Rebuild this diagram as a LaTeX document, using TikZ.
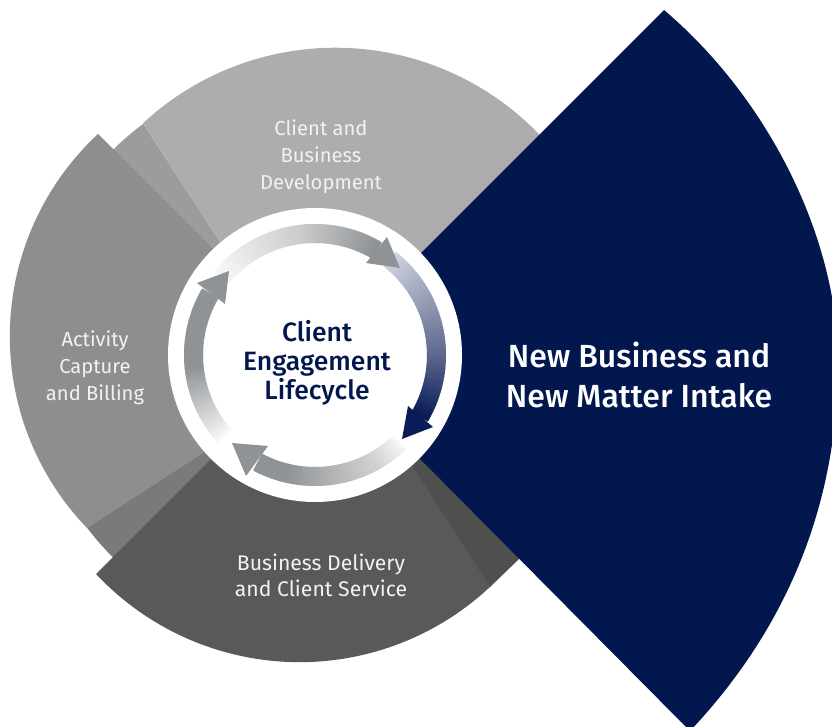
\documentclass[tikz,border=0pt]{standalone}
\usepackage{fontspec}
\setmainfont{Fira Sans}
\newfontfamily\medfont{Fira Sans Medium}
\definecolor{navy}{HTML}{03174F}
\definecolor{lightsec}{HTML}{ADADAD}
\definecolor{lightwedge}{HTML}{9C9C9C}
\definecolor{midsec}{HTML}{8E8E8E}
\definecolor{midwedge}{HTML}{7A7A7A}
\definecolor{darksec}{HTML}{595959}
\definecolor{darkwedge}{HTML}{4F4F4F}
\definecolor{ringgray}{HTML}{8F9396}
\definecolor{ringpale}{HTML}{F7F7F7}
\definecolor{ringmid}{HTML}{CFCFCF}
\definecolor{ringblue}{HTML}{CDD2DF}
\definecolor{ringslate}{HTML}{6A7395}
\definecolor{ringnavy}{HTML}{0A1C58}
\newcommand{\ringpart}[4]{%
  \foreach \i in {0,...,29} {
    \pgfmathsetmacro\aone{#1+(#2-#1)*\i/30}
    \pgfmathsetmacro\atwo{#1+(#2-#1)*(\i+1.5)/30}
    \pgfmathsetmacro\pct{100*\i/29}
    \fill[color={#4!\pct!#3}]
      ({315+112*cos(\aone)},{355+112*sin(\aone)}) --
      ({315+131*cos(\aone)},{355+131*sin(\aone)}) --
      ({315+131*cos(\atwo)},{355+131*sin(\atwo)}) --
      ({315+112*cos(\atwo)},{355+112*sin(\atwo)}) -- cycle;
  }}
\tikzset{
  arclabel/.style={text=white!95!black,align=center,inner sep=0pt,font=\fontsize{20.2}{27}\selectfont},
  deliverylabel/.style={arclabel,font=\fontsize{21.2}{26}\selectfont},
  hublabel/.style={text=navy,align=center,inner sep=0pt,font=\fontsize{26.5}{29}\selectfont\medfont},
  mainlabel/.style={text=white,align=center,inner sep=0pt,font=\fontsize{32}{40}\selectfont\medfont}
}
\begin{document}
\begin{tikzpicture}[x=1pt,y=-1pt]
\useasboundingbox (0,0) rectangle (832,727);
\clip (0,0) rectangle (832,727);
% wedges behind the sectors
\fill[lightwedge] (315,355) -- plot[domain=-138:-126.6,samples=12] ({315+288*cos(\x)},{355+288*sin(\x)}) -- (220,242) -- cycle;
\fill[midwedge] (320,370) -- (200,445) -- plot[domain=142.8:130,samples=10] ({315+286*cos(\x)},{355+286*sin(\x)}) -- cycle;
\fill[darkwedge] (341,355) -- (480,590) -- (490,587) -- (518,560) -- (540,535) -- cycle;
% sectors
\fill[lightsec] (143,123) -- plot[domain=-132.8:-40,samples=60] ({335.4+283*cos(\x)},{330.7+283*sin(\x)}) -- (340,360) -- (293,355) -- cycle;
\fill[midsec] (98,134) -- plot[domain=227.1:136.1,samples=60] ({286.3+276.5*cos(\x)},{336.4+276.5*sin(\x)}) -- (203,453) -- (320,377) -- (320,356) -- cycle;
\fill[darksec] (96,574) -- plot[domain=136.9:46.9,samples=60] ({299.5+278.8*cos(\x)},{383.4+278.8*sin(\x)}) -- (413,467) -- (341,355) -- (315,355) -- cycle;
% selected sector
\fill[navy] (318,356) -- (664,10) .. controls (770,100) and (838,240) .. (838,362) .. controls (838,500) and (790,625) .. (690,731) -- cycle;
% hub
\fill[white] (315,355) circle[radius=147];
% ring bodies
\ringpart{-140}{-100}{ringpale}{ringmid}
\ringpart{-100}{-60}{ringmid}{ringgray}
\ringpart{-52}{-5}{ringblue}{ringslate}
\ringpart{-5}{30}{ringslate}{ringnavy}
\ringpart{46}{62}{ringpale}{ringmid}
\ringpart{62}{105}{ringmid}{ringgray}
\ringpart{105}{118}{ringgray}{ringgray}
\ringpart{138}{175}{ringpale}{ringgray}
\ringpart{175}{210}{ringgray}{ringgray}
% ring heads
\coordinate (topTip) at (400,268);
\coordinate (topBarbA) at (387,237);
\coordinate (topBarbB) at (366,263);
\coordinate (rightTip) at (402,439);
\coordinate (rightBarbA) at (408,406);
\coordinate (rightBarbB) at (433,427);
\coordinate (botTip) at (232,443);
\coordinate (botBarbA) at (268,446);
\coordinate (botBarbB) at (246,476);
\coordinate (leftTip) at (229,271);
\coordinate (leftBarbA) at (197,283);
\coordinate (leftBarbB) at (225,304);
\fill[ringgray] (topTip) -- (topBarbA) -- (topBarbB) -- cycle;
\fill[ringnavy] (rightTip) -- (rightBarbA) -- (rightBarbB) -- cycle;
\fill[ringgray] (botTip) -- (botBarbA) -- (botBarbB) -- cycle;
\fill[ringgray] (leftTip) -- (leftBarbA) -- (leftBarbB) -- cycle;
% labels
\node[arclabel] (clientdev) at (321,157) {Client and\\Business\\Development};
\node[arclabel] (activity) at (95,368) {Activity\\Capture\\and Billing};
\node[deliverylabel] (delivery) at (321,575) {Business Delivery\\and Client Service};
\node[hublabel] (hub) at (317,363) {Client\\Engagement\\Lifecycle};
\node[mainlabel] (intake) at (639,375) {New Business and\\New Matter Intake};
\end{tikzpicture}
\end{document}
